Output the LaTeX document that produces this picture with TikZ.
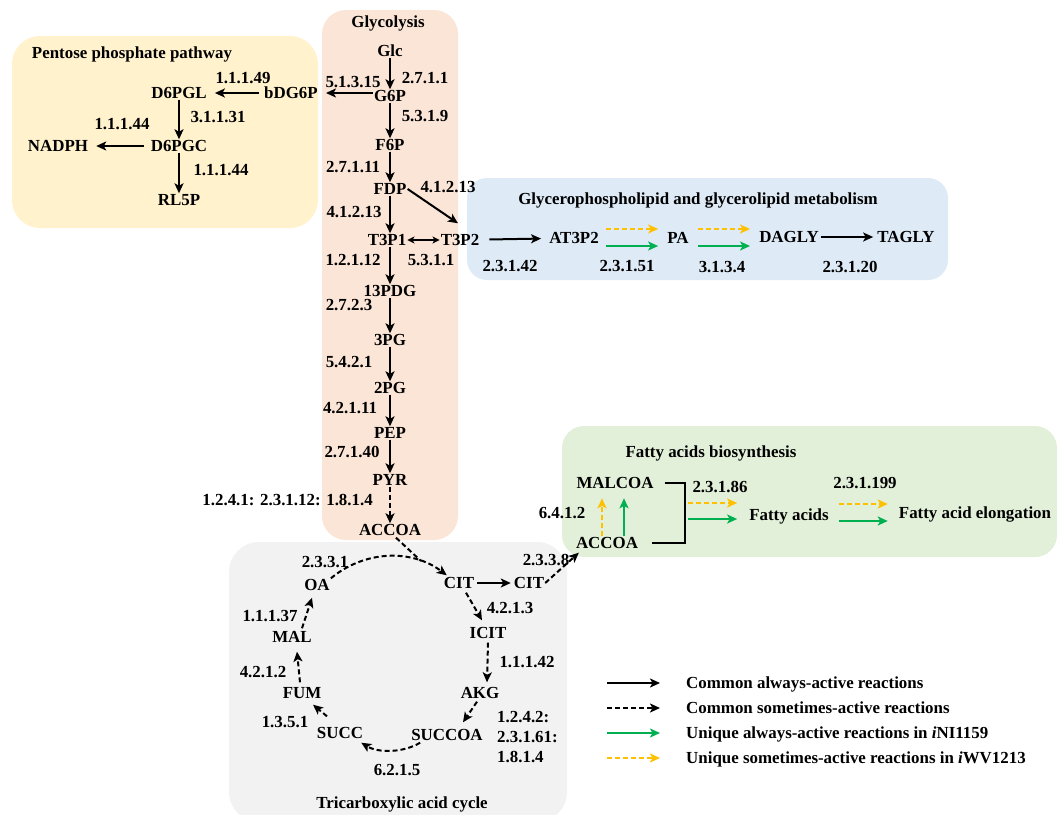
\documentclass[tikz,border=0pt]{standalone}
\usepackage{fontspec}
\setmainfont{Liberation Serif}
\usetikzlibrary{arrows.meta,calc}
\definecolor{pentfill}{HTML}{FFF2CC}
\definecolor{glyfill}{HTML}{FBE5D6}
\definecolor{lipfill}{HTML}{DEEBF7}
\definecolor{fafill}{HTML}{E2F0D9}
\definecolor{tcafill}{HTML}{F2F2F2}
\definecolor{faorange}{HTML}{FFC000}
\definecolor{fagreen}{HTML}{00B050}
\tikzset{
  met/.style={font=\fontsize{16.9}{19}\selectfont\bfseries, inner sep=1pt, text height=11pt, text depth=0pt},
  ec/.style={met, inner sep=0pt},
  ttl/.style={met},
  rx/.style={line width=2pt, -{Stealth[length=10pt,width=9pt,inset=2.5pt]}},
  rxd/.style={rx, dash pattern=on 5pt off 3pt},
  gx/.style={rx, draw=fagreen},
  ox/.style={rxd, draw=faorange},
  brk/.style={line width=2pt},
  dbl/.style={line width=1.8pt, {Stealth[length=7pt,width=7pt,inset=1.8pt]}-{Stealth[length=7pt,width=7pt,inset=1.8pt]}},
}
\begin{document}
\begin{tikzpicture}[x=1pt,y=-1pt]
\useasboundingbox (0,0) rectangle (1063,814);
% ---------- region boxes
\fill[pentfill, rounded corners=28pt] (12,36) rectangle (318,228);
\fill[glyfill, rounded corners=24pt] (322,10) rectangle (458,540);
\fill[lipfill, rounded corners=20pt] (467,178) rectangle (948,280);
\fill[fafill, rounded corners=22pt] (562,426) rectangle (1057,557);
\fill[tcafill, rounded corners=30pt] (229,542) rectangle (567,822);

% ---------- glycolysis
\node[ttl] (tgly) at (388,22) {Glycolysis};
\node[met] (Glc) at (390,51) {Glc};
\node[met] (G6P) at (390,96) {G6P};
\node[met] (F6P) at (390,145) {F6P};
\node[met] (FDP) at (390,189) {FDP};
\node[met] (T3P1) at (387,240) {T3P1};
\node[met] (T3P2) at (460,240) {T3P2};
\node[met] (PDG) at (390,291) {13PDG};
\node[met] (PG3) at (390,340) {3PG};
\node[met] (PG2) at (390,388) {2PG};
\node[met] (PEP) at (390,433) {PEP};
\node[met] (PYR) at (390,480) {PYR};
\node[met] (ACCOA) at (390,530) {ACCOA};

\node[ec] (e51315) at (353,82) {5.1.3.15};
\node[ec] (e2711) at (425,78) {2.7.1.1};
\node[ec] (e5319) at (425,116) {5.3.1.9};
\node[ec] (e27111) at (353,167) {2.7.1.11};
\node[ec] (e41213a) at (448,187) {4.1.2.13};
\node[ec] (e41213b) at (354,212) {4.1.2.13};
\node[ec] (e12112) at (353,260) {1.2.1.12};
\node[ec] (e5311) at (431,260) {5.3.1.1};
\node[ec] (e2723) at (349,305) {2.7.2.3};
\node[ec] (e5421) at (349,362) {5.4.2.1};
\node[ec] (e42111) at (350,408) {4.2.1.11};
\node[ec] (e27140) at (352,452) {2.7.1.40};
\node[ec, anchor=east] (epdh) at (373,500) {1.2.4.1: 2.3.1.12: 1.8.1.4};

\draw[rx] (Glc) -- (G6P);
\draw[rx] (G6P) -- (F6P);
\draw[rx] (F6P) -- (FDP);
\draw[rx] (FDP.south) -- (FDP.south |- T3P1.north);
\draw[rx] (FDP.east) -- ([shift={(-2pt,10pt)}]T3P2.north);
\draw[dbl] (T3P1) -- (T3P2);
\draw[rx] (PDG.north |- T3P1.south) -- (PDG.north);
\draw[rx] (PDG) -- (PG3);
\draw[rx] (PG3) -- (PG2);
\draw[rx] (PG2) -- (PEP);
\draw[rx] (PEP) -- (PYR);
\draw[rxd] (PYR) -- (ACCOA);

% ---------- pentose phosphate pathway
\node[ttl] (tppp) at (132,53) {Pentose phosphate pathway};
\node[met] (bDG6P) at (291,93) {bDG6P};
\node[met] (D6PGL) at (179,93) {D6PGL};
\node[met] (D6PGC) at (179,146) {D6PGC};
\node[met] (NADPH) at (58,146) {NADPH};
\node[met] (RL5P) at (179,200) {RL5P};
\node[ec] (e11149) at (243,78) {1.1.1.49};
\node[ec] (e31131) at (218,117) {3.1.1.31};
\node[ec] (e11144a) at (122,124) {1.1.1.44};
\node[ec] (e11144b) at (221,170) {1.1.1.44};

\draw[rx] ([yshift=3pt]G6P.west) -- ([xshift=7pt]bDG6P.east);
\draw[rx] ([xshift=-4pt]bDG6P.west) -- ([xshift=7pt]D6PGL.east);
\draw[rx] (D6PGL) -- (D6PGC);
\draw[rx] ([xshift=-6pt]D6PGC.west) -- ([xshift=7pt]NADPH.east);
\draw[rx] (D6PGC) -- (RL5P);

% ---------- glycerophospholipid
\node[ttl] (tlip) at (698,199) {Glycerophospholipid and glycerolipid metabolism};
\node[met] (AT3P2) at (574,238) {AT3P2};
\node[met] (PA) at (678,238) {PA};
\node[met] (DAGLY) at (789,237) {DAGLY};
\node[met] (TAGLY) at (906,237) {TAGLY};
\node[ec] (e23142) at (510,266) {2.3.1.42};
\node[ec] (e23151) at (627,266) {2.3.1.51};
\node[ec] (e3134) at (722,267) {3.1.3.4};
\node[ec] (e23120) at (850,267) {2.3.1.20};

\draw[rx, shorten <=9pt, shorten >=7pt] (T3P2) -- (AT3P2);
\draw[ox] ($(AT3P2.east)+(6,-9)$) -- ($(PA.west)+(-8,-9)$);
\draw[gx] ($(AT3P2.east)+(6,8)$) -- ($(PA.west)+(-8,8)$);
\draw[ox] ($(PA.east)+(8,-9)$) -- ($(DAGLY.west)+(-8,-8)$);
\draw[gx] ($(PA.east)+(8,8)$) -- ($(DAGLY.west)+(-8,9)$);
\draw[rx, shorten <=1pt, shorten >=3pt] (DAGLY) -- (TAGLY);

% ---------- fatty acids
\node[ttl] (tfa) at (711,452) {Fatty acids biosynthesis};
\node[met] (MALCOA) at (615,483) {MALCOA};
\node[met] (ACCOAf) at (607,543) {ACCOA};
\node[met] (FA) at (789,515) {Fatty acids};
\node[met] (FAE) at (975,513) {Fatty acid elongation};
\node[ec] (e6412) at (562,513) {6.4.1.2};
\node[ec] (e23186) at (720,487) {2.3.1.86};
\node[ec] (e231199) at (865,483) {2.3.1.199};

\draw[ox] ($(ACCOAf.north)+(-5,0)$) -- ($(ACCOAf.north)+(-5,-38)$);
\draw[gx] ($(ACCOAf.north)+(17,0)$) -- ($(ACCOAf.north)+(17,-38)$);
\coordinate (bkx) at (685,512);
\draw[brk] ($(MALCOA.east)+(10,0)$) -- (MALCOA.east -| bkx) -- (ACCOAf.east -| bkx) -- ($(ACCOAf.east)+(13,0)$);
\draw[ox] ($(bkx |- FA.west)+(3,-12)$) -- ($(FA.west)+(-11,-12)$);
\draw[gx] ($(bkx |- FA.west)+(3,4)$) -- ($(FA.west)+(-11,4)$);
\draw[ox] ($(FA.east)+(9,-11)$) -- ($(FAE.west)+(-10,-9)$);
\draw[gx] ($(FA.east)+(9,6)$) -- ($(FAE.west)+(-10,8)$);

% ---------- TCA cycle
\node[ttl] (ttca) at (402,803) {Tricarboxylic acid cycle};
\node[met] (OA) at (317,585) {OA};
\node[met] (CIT1) at (459,583) {CIT};
\node[met] (CIT2) at (529,583) {CIT};
\node[met] (ICIT) at (488,633) {ICIT};
\node[met] (AKG) at (480,693) {AKG};
\node[met] (SUCCOA) at (447,735) {SUCCOA};
\node[met] (SUCC) at (340,733) {SUCC};
\node[met] (FUM) at (302,693) {FUM};
\node[met] (MAL) at (292,637) {MAL};

\node[ec] (e2331) at (325,562) {2.3.3.1};
\node[ec] (e2338) at (546,560) {2.3.3.8};
\node[ec] (e4213) at (510,608) {4.2.1.3};
\node[ec] (e11142) at (527,662) {1.1.1.42};
\node[ec, anchor=west] (e1242) at (497,717) {1.2.4.2:};
\node[ec, anchor=west] (e23161) at (497,737) {2.3.1.61:};
\node[ec, anchor=west] (e1814) at (497,757) {1.8.1.4};
\node[ec] (e6215) at (397,770) {6.2.1.5};
\node[ec] (e1351) at (285,722) {1.3.5.1};
\node[ec] (e4212) at (263,672) {4.2.1.2};
\node[ec] (e11137) at (270,616) {1.1.1.37};

\coordinate (join) at (421,561);
\draw[rxd] (OA.north east) .. controls (365,550) and (412,549) .. ($(CIT1.north west)+(4,-1)$);
\draw[line width=2pt, dash pattern=on 5pt off 3pt] ($(ACCOA.south)+(6,1)$) -- (join);
\draw[rx, shorten <=2pt, shorten >=2pt] (CIT1) -- (CIT2);
\draw[rxd] (CIT2.east) -- ($(ACCOAf.south west)+(4,3)$);
\draw[rxd] ($(CIT1.south)+(7,3)$) -- ($(ICIT.north)+(-6,-6)$);
\draw[rxd] ($(ICIT.south)+(0,3)$) -- ($(AKG.north)+(7,-4)$);
\draw[rxd] ($(AKG.south)+(-3,2)$) -- ($(SUCCOA.north)+(16,-6)$);
\draw[rxd] ($(SUCCOA.south west)+(10,1)$) .. controls (403,753) and (378,753) .. ($(SUCC.south east)+(-3,3)$);
\draw[rxd] ($(SUCC.north)+(-13,-10)$) -- ($(FUM.south)+(11,5)$);
\draw[rxd] ($(FUM.north)+(-2,-4)$) -- ($(MAL.south)+(5,8)$);
\draw[rxd] ($(MAL.north)+(10,-2)$) -- ($(OA.south)+(-5,6)$);

% ---------- legend
\coordinate (l1a) at (607,683); \coordinate (l1b) at (660,683);
\coordinate (l2a) at (607,708); \coordinate (l2b) at (660,708);
\coordinate (l3a) at (607,733); \coordinate (l3b) at (660,733);
\coordinate (l4a) at (607,758); \coordinate (l4b) at (660,758);
\draw[rx] (l1a) -- (l1b);
\draw[rxd] (l2a) -- (l2b);
\draw[gx] (l3a) -- (l3b);
\draw[ox] (l4a) -- (l4b);
\node[met, anchor=west] (lt1) at (685,683) {Common always-active reactions};
\node[met, anchor=west] (lt2) at (685,708) {Common sometimes-active reactions};
\node[met, anchor=west] (lt3) at (685,733) {Unique always-active reactions in \textit{i}NI1159};
\node[met, anchor=west] (lt4) at (685,758) {Unique sometimes-active reactions in \textit{i}WV1213};
\end{tikzpicture}
\end{document}
